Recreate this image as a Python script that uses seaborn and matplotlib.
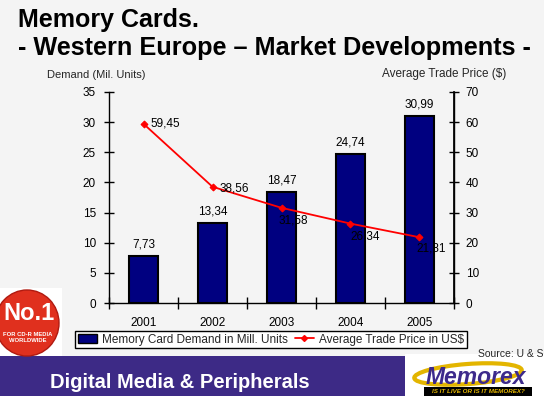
import numpy as np
import pandas as pd
import matplotlib
matplotlib.use("Agg")
import matplotlib.pyplot as plt
import matplotlib.patches as mpatches
from matplotlib.lines import Line2D
import seaborn as sns

# ---- data ----
years = ["2001", "2002", "2003", "2004", "2005"]
demand = [7.73, 13.34, 18.47, 24.74, 30.99]
price = [59.45, 38.56, 31.58, 26.34, 21.81]
demand_labels = ["7,73", "13,34", "18,47", "24,74", "30,99"]
price_labels = ["59,45", "38,56", "31,58", "26,34", "21,81"]
left_ticks = [0, 5, 10, 15, 20, 25, 30, 35]
right_ticks = [0, 10, 20, 30, 40, 50, 60, 70]

sns.set_theme(style="white")
plt.rcParams["font.family"] = ["Liberation Sans", "DejaVu Sans"]

BG = "#f4f4f4"
fig = plt.figure(figsize=(5.44, 3.96), dpi=100, facecolor=BG)

# Title
fig.text(18/544, 1-27/396, "Memory Cards.", fontsize=18, weight="bold",
         va="baseline", ha="left", color="black")
fig.text(18/544, 1-55/396, "- Western Europe \u2013 Market Developments -",
         fontsize=18.2, weight="bold", va="baseline", ha="left", color="black")

ax = fig.add_axes([109/544, 1-303/396, 345/544, 211/396])
ax.set_facecolor("none")

df = pd.DataFrame({"year": years, "demand": demand})
sns.barplot(data=df, x="year", y="demand", color="#000080", saturation=1,
            edgecolor="black", linewidth=1.5, width=0.42, ax=ax)
ax.set_xlim(-0.5, 4.5)
ax.set_ylim(0, 35)
ax.set_yticks(left_ticks)
ax.set_xlabel("")
ax.set_ylabel("")
ax.spines["top"].set_visible(False)
for s in ["left", "bottom", "right"]:
    ax.spines[s].set_color("black")
    ax.spines[s].set_linewidth(1.0)
ax.tick_params(axis="y", direction="inout", length=7, width=1, colors="black",
               labelsize=8.5, left=True, pad=6)
ax.tick_params(axis="x", which="major", length=0, labelsize=8.5, pad=10, colors="black")
ax.set_xticks(np.arange(-0.5, 5.0, 1.0), minor=True)
ax.tick_params(axis="x", which="minor", direction="inout", length=8, width=1,
               color="black", bottom=True)
ax.bar_label(ax.containers[0], labels=demand_labels, padding=4, fontsize=8.5,
             color="black")

ax2 = ax.twinx()
xs = np.arange(len(years))
sns.lineplot(x=xs, y=price, ax=ax2, color="red", linewidth=1.3, marker="D",
             markersize=3.5, markeredgecolor="red", legend=False)
ax2.set_ylim(0, 70)
ax2.set_yticks(right_ticks)
ax2.set_ylabel("")
ax2.spines["top"].set_visible(False)
ax2.spines["left"].set_visible(False)
ax2.spines["bottom"].set_visible(False)
ax2.spines["right"].set_color("black")
ax2.tick_params(axis="y", direction="inout", length=7, width=1, colors="black",
                labelsize=8.5, right=True, pad=5)
offsets = [(5, 0), (5, -1), (-2, -9), (0, -9), (-2, -8)]
for x, y, lab, (dx, dy) in zip(xs, price, price_labels, offsets):
    ax2.annotate(lab, (x, y), xytext=(dx, dy), textcoords="offset points",
                 ha="left", va="center", fontsize=8.5, color="black")

# axis titles
fig.text(96/544, 1-75/396, "Demand (Mil. Units)", fontsize=8, ha="center", va="center")
fig.text(444/544, 1-74/396, "Average Trade Price ($)", fontsize=8.5, ha="center", va="center")

# legend
handles = [mpatches.Patch(facecolor="#000080", edgecolor="black", linewidth=1),
           Line2D([0], [0], color="red", marker="D", markersize=3, linewidth=1.3)]
leg = fig.legend(handles, ["Memory Card Demand in Mill. Units", "Average Trade Price in US$"],
                 loc="center", bbox_to_anchor=(271/544, 1-339.5/396), ncol=2,
                 frameon=True, fancybox=False, edgecolor="black", facecolor="white",
                 fontsize=8.5, handlelength=1.6, handleheight=0.8, columnspacing=0.6,
                 handletextpad=0.4, borderpad=0.25, framealpha=1)
leg.get_frame().set_linewidth(1.0)

fig.text(1.0, 1-354/396, "Source: U & S", fontsize=7.5, ha="right", va="center")

# bottom banner
fig.patches.append(mpatches.Rectangle((0, 0), 405/544, 40/396, transform=fig.transFigure,
                                      facecolor="#3d2a86", edgecolor="none", zorder=0))
fig.text(50/544, 1-382/396, "Digital Media & Peripherals", fontsize=14.5, weight="bold",
         color="white", ha="left", va="center")
fig.patches.append(mpatches.Rectangle((405/544, 0), 139/544, 42/396, transform=fig.transFigure,
                                      facecolor="white", edgecolor="none", zorder=0))

# Memorex logo
fig.patches.append(mpatches.Ellipse((468/544, 1-374/396), 108/544, 20/396,
                                    transform=fig.transFigure, fill=False,
                                    edgecolor="#e3b500", linewidth=3, angle=6, zorder=1))
fig.text(476/544, 1-377/396, "Memorex", fontsize=16.5, weight="bold", style="italic",
         color="#3d2a8c", ha="center", va="center", zorder=3)
fig.patches.append(mpatches.Rectangle((424/544, 0), 108/544, 9/396,
                                      transform=fig.transFigure, facecolor="black",
                                      edgecolor="none", zorder=2))
fig.text(478/544, 4.5/396, "IS IT LIVE OR IS IT MEMOREX?", fontsize=4.5, weight="bold",
         style="italic", color="#e3b500", ha="center", va="center", zorder=3)

# No.1 badge
fig.patches.append(mpatches.Rectangle((0, 1-356/396), 62/544, 68/396, transform=fig.transFigure,
                                      facecolor="white", edgecolor="none", zorder=0))
fig.patches.append(mpatches.Ellipse((27/544, 1-323/396), 64/544, 66/396, transform=fig.transFigure,
                                    facecolor="#e0301e", edgecolor="#b01a10", linewidth=1, zorder=1))
fig.text(29/544, 1-314/396, "No.1", fontsize=17, weight="bold", color="white",
         ha="center", va="center", zorder=3)
fig.text(28/544, 1-334/396, "FOR CD-R MEDIA", fontsize=4.2, weight="bold", color="white",
         ha="center", va="center", zorder=3)
fig.text(28/544, 1-341/396, "WORLDWIDE", fontsize=4.2, weight="bold", color="white",
         ha="center", va="center", zorder=3)

fig.savefig("out.png", dpi=100, facecolor=BG)
